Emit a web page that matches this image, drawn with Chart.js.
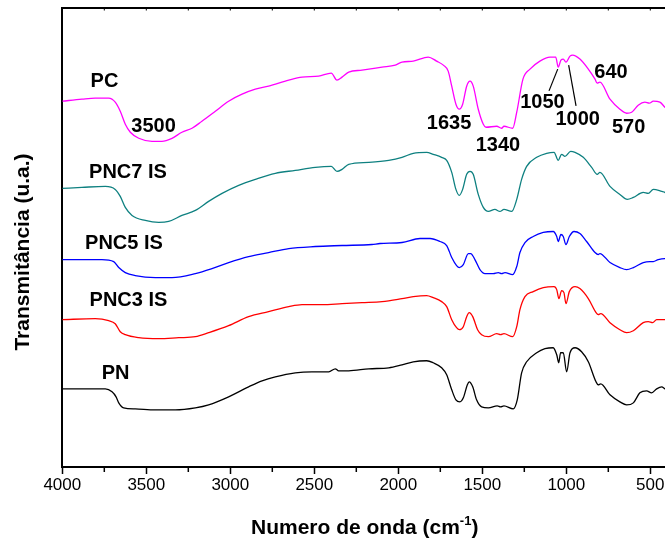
<!DOCTYPE html>
<html><head><meta charset="utf-8">
<script src="https://cdn.jsdelivr.net/npm/chart.js@4.4.1/dist/chart.umd.min.js"></script>
<style>html,body{margin:0;padding:0;overflow:hidden;background:#fff}canvas{display:block}</style>
</head><body><canvas id="c" width="680" height="543"></canvas>
<script>
// ---- data (wavenumber cm^-1, transmittance a.u.) ----
const pcX=[4000,3883,3804,3724,3685,3655,3625,3595,3545,3466,3407,3347,3288,3228,3169,3089,3010,2930,2851,2772,2652,2573,2474,2399,2365,2335,2295,2216,2097,2018,1978,1911,1822,1772,1732,1703,1682,1657,1637,1617,1593,1573,1554,1524,1494,1478,1414,1385,1371,1319,1295,1258,1216,1157,1097,1063,1048,1032,1018,1002,978,962,919,869,829,816,800,740,681,641,611,572,532,506,482,443,413,400];
const pcY=[36.5,36.7,36.8,36.8,36.4,35.5,34.2,33.4,32.8,32.5,32.5,32.8,33.4,33.8,34.5,35.5,36.5,37.2,37.7,38.0,38.6,38.9,39.0,39.3,38.6,38.9,39.4,39.6,39.9,40.1,40.4,40.5,40.9,40.5,40.1,39.5,38.0,36.2,35.7,36.2,38.0,38.5,38.0,35.7,34.2,33.9,34.0,33.8,34.0,33.8,35.4,38.7,39.7,40.5,40.9,40.9,39.9,40.6,40.7,40.4,41.0,41.1,40.7,39.7,38.7,38.3,38.4,36.7,35.7,35.3,35.4,36.1,36.4,36.3,36.5,36.4,35.9,35.7];
const pnc7X=[4000,3883,3744,3685,3655,3625,3585,3506,3426,3367,3288,3208,3129,3049,2950,2851,2732,2613,2494,2399,2365,2335,2295,2176,2057,1978,1911,1831,1792,1742,1712,1682,1657,1637,1617,1593,1573,1554,1524,1494,1464,1425,1395,1371,1325,1295,1266,1236,1176,1117,1073,1048,1028,1008,974,948,899,849,816,800,740,681,637,601,542,512,482,432,413,400];
const pnc7Y=[27.8,27.9,28.0,27.7,27.0,25.9,25.1,24.6,24.4,24.5,25.1,25.6,26.5,27.3,28.1,28.7,29.3,29.6,29.9,30.0,29.5,29.7,30.2,30.4,30.6,30.9,31.3,31.4,31.2,30.9,30.6,29.4,27.7,27.1,27.7,29.2,29.5,29.2,27.2,25.9,25.5,25.7,25.5,25.7,25.5,26.7,28.7,30.0,30.9,31.3,31.4,30.6,31.2,31.0,31.5,31.4,30.9,29.9,29.2,29.4,28.0,27.2,26.7,26.9,27.4,27.3,27.7,27.5,27.4,27.2];
const pnc5X=[4000,3883,3764,3694,3664,3625,3566,3446,3347,3208,3109,3010,2891,2772,2652,2494,2335,2157,2109,1978,1871,1811,1752,1712,1682,1653,1637,1613,1583,1569,1544,1514,1484,1435,1405,1385,1365,1319,1295,1276,1246,1197,1137,1078,1057,1048,1032,1018,1002,982,954,919,879,829,810,800,740,681,641,601,542,502,482,453,413,400];
const pnc5Y=[20.7,20.7,20.7,20.5,19.9,19.4,19.1,18.9,18.9,19.3,19.8,20.4,21.0,21.4,21.8,22.0,22.1,22.2,22.3,22.4,22.8,22.8,22.5,22.1,20.9,20.1,19.9,20.2,21.3,21.3,20.7,19.7,19.3,19.3,19.4,19.3,19.4,19.2,20.0,21.4,22.4,23.0,23.4,23.5,23.0,22.5,23.2,23.0,22.2,23.0,23.5,23.3,22.5,21.4,21.2,21.3,20.4,19.9,19.7,19.9,20.4,20.5,20.5,20.7,20.8,20.8];
const pnc3X=[4000,3804,3724,3685,3655,3625,3545,3426,3307,3208,3129,3010,2891,2772,2652,2573,2454,2335,2216,2097,1978,1911,1831,1792,1742,1712,1682,1653,1637,1613,1593,1578,1557,1528,1504,1464,1414,1391,1371,1319,1295,1276,1246,1197,1137,1073,1057,1044,1028,1014,1002,982,948,919,869,823,810,795,740,681,641,601,542,512,486,462,413,400];
const pnc3Y=[14.7,14.8,14.6,14.3,13.5,13.2,12.9,12.8,12.9,13.0,13.4,14.1,15.0,15.5,16.0,16.2,16.2,16.3,16.4,16.5,16.8,17.0,17.1,16.9,16.5,16.0,14.7,13.9,13.7,14.0,15.0,15.4,15.0,13.7,13.2,13.0,13.3,13.2,13.3,13.0,14.0,15.7,17.0,17.5,17.9,18.0,17.7,16.8,17.6,17.4,16.3,17.5,18.0,17.8,16.8,15.4,15.2,15.3,14.4,13.7,13.4,13.6,14.4,14.5,14.4,14.7,14.7,14.7];
const pnX=[4000,3804,3744,3704,3680,3664,3635,3566,3446,3327,3208,3129,3010,2891,2811,2732,2613,2514,2414,2375,2355,2295,2176,2057,1978,1911,1831,1792,1742,1712,1682,1657,1633,1613,1589,1578,1557,1534,1504,1464,1411,1391,1371,1316,1292,1266,1236,1176,1127,1078,1057,1045,1034,1018,998,978,948,909,869,823,810,795,740,681,641,601,562,522,492,462,432,413,400];
const pnY=[7.8,7.8,7.8,7.5,7.0,6.4,5.9,5.8,5.7,5.7,5.9,6.2,7.0,8.0,8.6,9.0,9.4,9.5,9.5,9.8,9.6,9.6,9.8,9.9,10.2,10.5,10.6,10.4,9.9,9.2,7.7,6.7,6.5,6.9,8.2,8.5,8.0,6.7,6.0,5.9,6.1,6.0,6.1,5.8,6.7,9.4,10.5,11.4,11.8,11.9,11.2,10.4,11.4,11.4,9.5,11.4,11.9,11.5,10.5,8.5,8.2,8.3,7.2,6.5,6.2,6.4,7.4,7.6,7.4,7.8,8.0,7.8,7.7];

const xTicks=[4000,3500,3000,2500,2000,1500,1000,500];
const xMinorTicks=[3750,3250,2750,2250,1750,1250,750];

const seriesNames=['PC','PNC7 IS','PNC5 IS','PNC3 IS','PN'];
const seriesLabelX=[3749,3609,3633,3606,3683];
const seriesLabelY=[38.65,29.5,22.45,16.75,9.5];

const peakLabels=['3500','1635','1340','1050','1000','640','570'];
const peakLabelX=[3457,1698,1407,1142,932,734,629];
const peakLabelY=[34.15,34.4,32.2,36.5,34.8,39.5,34.0];
// leader lines [x1,y1,x2,y2]
const leaders=[[1103,37.53,1051,39.7],[986,40.1,942,36.03]];

const colors=['#ff00ff','#0e8080','#0000ff','#ff0000','#000000'];
const seriesX=[pcX,pnc7X,pnc5X,pnc3X,pnX];
const seriesY=[pcY,pnc7Y,pnc5Y,pnc3Y,pnY];

function hasFont(f){const c=document.createElement('canvas').getContext('2d');
  c.font='40px monospace';const a=c.measureText('abcdefghij0123').width;
  c.font='40px "'+f+'", monospace';return Math.abs(c.measureText('abcdefghij0123').width-a)>0.5;}
const narrow=hasFont('Liberation Sans Narrow');
const tickFont=narrow?{family:'"Liberation Sans Narrow"',size:20}:{family:'"Liberation Sans", Arial',size:17};

const deco={
  id:'deco',
  afterDraw(chart){
    const {ctx,chartArea:a,scales:{x,y}}=chart;
    ctx.save();
    ctx.strokeStyle='#000';
    ctx.lineWidth=2;
    ctx.beginPath();ctx.moveTo(a.left-1,a.top);ctx.lineTo(a.right+2,a.top);ctx.stroke();
    ctx.lineWidth=1.5;
    xMinorTicks.forEach(v=>{const px=x.getPixelForValue(v);ctx.beginPath();ctx.moveTo(px,a.bottom);ctx.lineTo(px,a.bottom+5);ctx.stroke();});
    ctx.lineWidth=1;
    xTicks.concat(xMinorTicks).forEach(v=>{const px=x.getPixelForValue(v);ctx.beginPath();ctx.moveTo(px,a.top);ctx.lineTo(px,a.top+2.5);ctx.stroke();});
    ctx.fillStyle='#000';
    ctx.font='bold 20px "Liberation Sans", Arial, sans-serif';
    ctx.textAlign='center';ctx.textBaseline='alphabetic';
    seriesNames.forEach((t,i)=>ctx.fillText(t,x.getPixelForValue(seriesLabelX[i]),y.getPixelForValue(seriesLabelY[i])+7));
    peakLabels.forEach((t,i)=>ctx.fillText(t,x.getPixelForValue(peakLabelX[i]),y.getPixelForValue(peakLabelY[i])+7));
    ctx.lineWidth=1.2;
    leaders.forEach(l=>{ctx.beginPath();ctx.moveTo(x.getPixelForValue(l[0]),y.getPixelForValue(l[1]));ctx.lineTo(x.getPixelForValue(l[2]),y.getPixelForValue(l[3]));ctx.stroke();});
    // y title
    ctx.save();ctx.translate(23,252);ctx.rotate(-Math.PI/2);
    ctx.font='bold 21px "Liberation Sans", Arial, sans-serif';ctx.textBaseline='middle';
    ctx.fillText('Transmitância (u.a.)',0,0);ctx.restore();
    // x title with superscript
    const big='bold 21px "Liberation Sans", Arial, sans-serif', small='bold 13px "Liberation Sans", Arial, sans-serif';
    const p1='Numero de onda (cm', sup='-1', p3=')';
    ctx.font=big;const w1=ctx.measureText(p1).width,w3=ctx.measureText(p3).width;
    ctx.font=small;const w2=ctx.measureText(sup).width;
    let sx=(a.left+a.right)/2-(w1+w2+w3)/2;const by=534;
    ctx.textAlign='left';
    ctx.font=big;ctx.fillText(p1,sx,by);sx+=w1;
    ctx.font=small;ctx.fillText(sup,sx,by-9);sx+=w2;
    ctx.font=big;ctx.fillText(p3,sx,by);
    ctx.restore();
  }
};

new Chart(document.getElementById('c'),{
  type:'line',
  data:{datasets:seriesNames.map((n,i)=>({
    label:n,
    data:seriesX[i].map((v,j)=>({x:v,y:seriesY[i][j]})),
    borderColor:colors[i],borderWidth:1.3,pointRadius:0,fill:false,
    cubicInterpolationMode:'monotone'
  }))},
  options:{
    responsive:false,animation:false,devicePixelRatio:1,
    layout:{padding:{left:0,right:12.9,top:8,bottom:0}},
    plugins:{legend:{display:false},tooltip:{enabled:false}},
    scales:{
      x:{type:'linear',reverse:true,min:400,max:4000,
        afterBuildTicks:s=>{s.ticks=xTicks.map(v=>({value:v}));},
        afterFit:s=>{s.height=76;},
        ticks:{color:'#000',font:tickFont,padding:1,maxRotation:0,autoSkip:false,callback:v=>String(v)},
        grid:{display:true,drawOnChartArea:false,drawTicks:true,tickLength:7,tickWidth:1.5,tickColor:'#000'},
        border:{display:true,color:'#000',width:2}
      },
      y:{min:0,max:45.8,
        afterFit:s=>{s.width=62.3;},
        ticks:{display:false},
        grid:{display:false,drawTicks:false},
        border:{display:true,color:'#000',width:2}
      }
    }
  },
  plugins:[deco]
});
</script>
</body></html>
